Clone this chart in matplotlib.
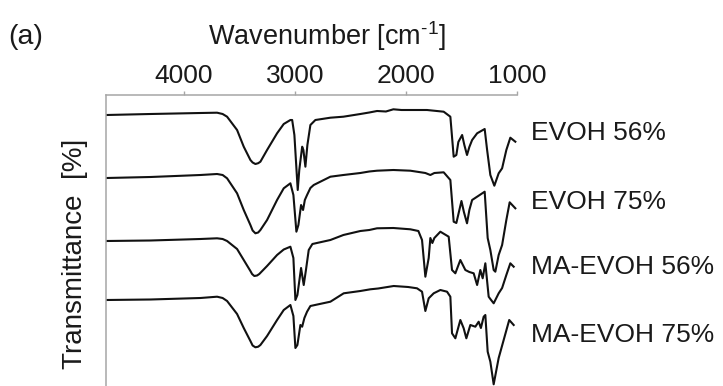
"""FTIR spectra of EVOH and MA-EVOH films, stacked with vertical offsets."""

import matplotlib

matplotlib.use("Agg")
import matplotlib.pyplot as plt

plt.rcParams["font.family"] = ["Liberation Sans", "DejaVu Sans"]
plt.rcParams["mathtext.fontset"] = "custom"
plt.rcParams["mathtext.rm"] = "Liberation Sans"
plt.rcParams["mathtext.default"] = "regular"

# wavenumber [cm-1] / offset transmittance (arbitrary units)
evoh56_wn = [4695, 4300, 3850, 3700, 3650, 3610, 3520, 3460, 3400, 3380, 3355, 3330, 3310, 3250,
             3160, 3100, 3040, 3024, 3004, 2974, 2960, 2934, 2923, 2905, 2887, 2860, 2815, 2680,
             2563, 2410, 2330, 2260, 2180, 2113, 2040, 1960, 1810, 1660, 1600, 1570, 1546, 1528,
             1494, 1474, 1450, 1429, 1404, 1359, 1291, 1269, 1240, 1204, 1165, 1134, 1096, 1060,
             1015]
evoh56_t = [271, 272, 273, 273.3, 272, 269.3, 256, 239.3, 226, 223.5, 222, 222.8, 224.3, 236,
            252.7, 262, 266, 266, 251, 196, 216, 239.3, 236, 219.3, 241, 261, 266, 268.3,
            269.3, 272, 273.5, 275, 274.5, 276.7, 276, 276, 276, 274.3, 269.3, 229.3, 231, 244,
            251, 241, 231, 239, 246, 252.7, 257, 236, 211, 200.3, 212.7, 217.7, 236, 248.3,
            244.3]

evoh75_wn = [4695, 4300, 3850, 3700, 3650, 3610, 3520, 3460, 3400, 3380, 3355, 3330, 3310, 3250,
             3160, 3100, 3040, 3013, 2986, 2968, 2944, 2926, 2910, 2890, 2860, 2830, 2680, 2563,
             2410, 2330, 2260, 2113, 1960, 1825, 1780, 1744, 1660, 1600, 1570, 1546, 1500, 1478,
             1450, 1429, 1404, 1359, 1291, 1264, 1240, 1210, 1195, 1165, 1134, 1096, 1066, 1015]
evoh75_t = [208, 209, 211, 212, 211, 207.7, 192.7, 176, 161, 155.5, 152.7, 153.5, 156, 166,
            186, 197.7, 202.7, 191, 154.3, 161, 181, 176, 186, 191, 198, 201, 209.3, 211,
            213, 214.5, 215.3, 216, 215.3, 213, 211, 213, 213.7, 206, 164.3, 163, 185, 174,
            162.7, 176, 186, 189.3, 194.3, 148, 136, 116, 114.3, 131, 141, 166, 183.7, 177.7]

maevoh56_wn = [4695, 4300, 3850, 3700, 3650, 3610, 3520, 3460, 3400, 3385, 3365, 3340, 3320, 3250,
               3160, 3100, 3040, 3013, 2995, 2977, 2944, 2920, 2900, 2875, 2842, 2680, 2563, 2410,
               2330, 2260, 2113, 1960, 1888, 1855, 1825, 1795, 1780, 1762, 1744, 1690, 1615, 1585,
               1555, 1510, 1465, 1429, 1390, 1359, 1330, 1309, 1285, 1255, 1240, 1210, 1165, 1134,
               1096, 1060, 1030]
maevoh56_t = [145, 145.5, 147, 147.7, 147, 145, 137, 126, 115, 112, 110, 110.5, 112, 120,
              131, 136.5, 139.3, 128, 86, 91, 118, 101, 116, 136, 142, 146, 151, 155,
              156, 157.7, 158, 156.7, 155, 146, 109.3, 128, 148, 143, 148, 154.3, 149.3, 116,
              112.7, 126, 116, 114, 112.7, 101, 116, 107.7, 122.7, 89.3, 87, 82.7, 92.7, 98,
              111, 122.7, 119.3]

maevoh75_wn = [4695, 4300, 3850, 3700, 3650, 3610, 3520, 3460, 3400, 3380, 3355, 3330, 3310, 3250,
               3160, 3100, 3040, 3013, 2995, 2977, 2950, 2934, 2914, 2890, 2860, 2680, 2560, 2410,
               2320, 2250, 2110, 1980, 1900, 1855, 1825, 1795, 1750, 1690, 1630, 1600, 1585, 1555,
               1510, 1480, 1456, 1420, 1375, 1345, 1325, 1300, 1285, 1264, 1240, 1210, 1165, 1120,
               1070, 1030]
maevoh75_t = [86, 86.5, 88, 89.3, 88, 85, 72, 58, 45, 40.5, 38.7, 39.3, 41, 50,
              66, 76, 81, 70, 38, 41, 61, 59.3, 68, 74.3, 80, 84.3, 92.7, 95,
              96.7, 97.5, 100, 99, 97.7, 94.3, 75, 87.7, 92.7, 96, 94.3, 89.3, 52.7, 47.7,
              66, 57.7, 47.7, 61, 59.3, 64.3, 58, 69.3, 71, 34.3, 24.3, 1.7, 28, 46,
              66, 61]

series = [
    ("EVOH 56%", evoh56_wn, evoh56_t),
    ("EVOH 75%", evoh75_wn, evoh75_t),
    ("MA-EVOH 56%", maevoh56_wn, maevoh56_t),
    ("MA-EVOH 75%", maevoh75_wn, maevoh75_t),
]
x_ticks = [4000, 3000, 2000, 1000]

# figure-fraction y position of each trace label (right margin)
label_y = [0.655, 0.477, 0.309, 0.132]

FS = 19
GREY = "#a6a6a6"
INK = "#1a1a1a"

fig = plt.figure(figsize=(7.23, 3.86), dpi=100)
ax = fig.add_axes([106 / 723, 0.0, 411 / 723, 291 / 386])

for name, wn, t in series:
    ax.plot(wn, t, color="#111111", lw=1.5, solid_joinstyle="round")

ax.set_xlim(4700, 1000)
ax.set_ylim(0, 291)
ax.xaxis.tick_top()
ax.set_xticks(x_ticks)
ax.set_xticklabels([str(v) for v in x_ticks])
ax.set_yticks([])
ax.tick_params(axis="x", direction="out", length=3, width=1, color=GREY,
               pad=2, labelsize=FS, labelcolor=INK)
for side in ("bottom", "right"):
    ax.spines[side].set_visible(False)
for side in ("top", "left"):
    ax.spines[side].set_color(GREY)
    ax.spines[side].set_linewidth(1.1)

fig.text(327 / 723, 1 - 36 / 386, r"Wavenumber [cm$^{\text{-}1}$]", ha="center", va="center",
         fontsize=19.5, color=INK)
fig.text(8 / 723, 1 - 37 / 386, "(a)", ha="left", va="center", fontsize=20.5, color=INK)
fig.text(75 / 723, 0.343, "Transmittance  [%]", rotation=90, ha="center", va="center",
         fontsize=20, color=INK)

for (name, _, _), y in zip(series, label_y):
    fig.text(531 / 723, y, name, ha="left", va="center", fontsize=FS, color=INK)

fig.savefig("out.png", dpi=100, facecolor="white")
plt.close(fig)
